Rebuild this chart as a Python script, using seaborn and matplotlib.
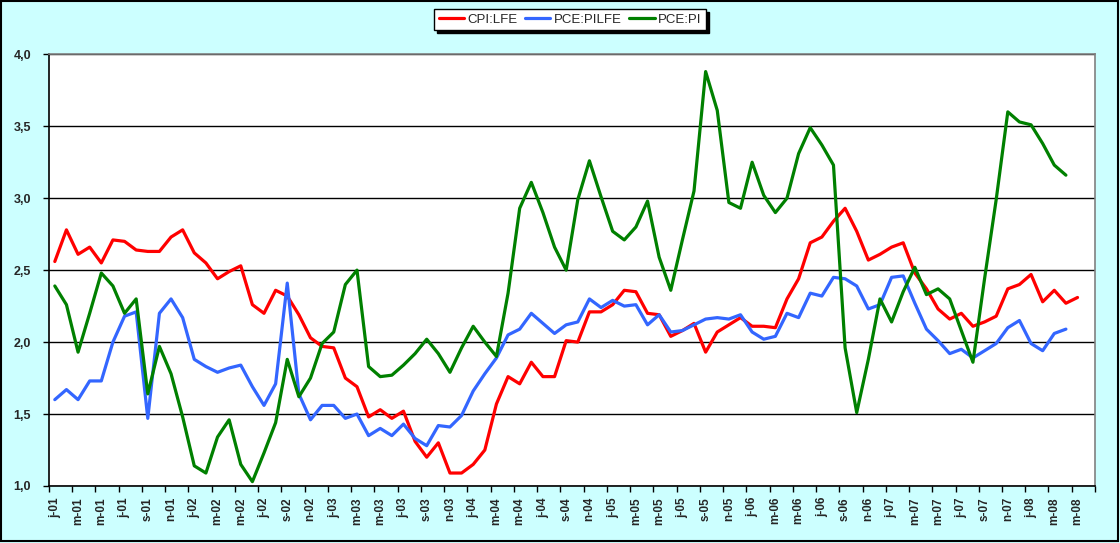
"""
Core inflation measures, monthly, Jan 2001 - May 2008
CPI less food & energy vs PCE price indexes (y/y %).
"""

import numpy as np
import pandas as pd
import seaborn as sns
import matplotlib.pyplot as plt
from matplotlib.patches import Rectangle

# ------------------------------
# DATA
# ------------------------------
month_initials = ['j', 'f', 'm', 'a', 'm', 'j', 'j', 'a', 's', 'o', 'n', 'd']
years = ['01', '02', '03', '04', '05', '06', '07', '08']
n_months = 90   # Jan 2001 .. Jun 2008 (axis categories)

cpi_lfe = [2.56, 2.78, 2.61, 2.66, 2.55, 2.71, 2.70, 2.64, 2.63, 2.63, 2.73, 2.78,
           2.62, 2.55, 2.44, 2.49, 2.53, 2.26, 2.20, 2.36, 2.32, 2.19, 2.03, 1.97,
           1.96, 1.75, 1.69, 1.48, 1.53, 1.47, 1.52, 1.31, 1.20, 1.30, 1.09, 1.09,
           1.15, 1.25, 1.57, 1.76, 1.71, 1.86, 1.76, 1.76, 2.01, 2.00, 2.21, 2.21,
           2.26, 2.36, 2.35, 2.20, 2.19, 2.04, 2.08, 2.13, 1.93, 2.07, 2.12, 2.17,
           2.11, 2.11, 2.10, 2.30, 2.44, 2.69, 2.73, 2.84, 2.93, 2.77, 2.57, 2.61,
           2.66, 2.69, 2.48, 2.37, 2.23, 2.16, 2.20, 2.11, 2.14, 2.18, 2.37, 2.40,
           2.47, 2.28, 2.36, 2.27, 2.31]

pce_pilfe = [1.60, 1.67, 1.60, 1.73, 1.73, 2.00, 2.18, 2.21, 1.47, 2.20, 2.30, 2.17,
             1.88, 1.83, 1.79, 1.82, 1.84, 1.69, 1.56, 1.71, 2.41, 1.64, 1.46, 1.56,
             1.56, 1.47, 1.50, 1.35, 1.40, 1.35, 1.43, 1.33, 1.28, 1.42, 1.41, 1.49,
             1.66, 1.78, 1.89, 2.05, 2.09, 2.20, 2.13, 2.06, 2.12, 2.14, 2.30, 2.24,
             2.29, 2.25, 2.26, 2.12, 2.19, 2.07, 2.08, 2.12, 2.16, 2.17, 2.16, 2.19,
             2.07, 2.02, 2.04, 2.20, 2.17, 2.34, 2.32, 2.45, 2.44, 2.39, 2.23, 2.26,
             2.45, 2.46, 2.27, 2.09, 2.01, 1.92, 1.95, 1.89, 1.94, 1.99, 2.10, 2.15,
             1.99, 1.94, 2.06, 2.09]

pce_pi = [2.39, 2.26, 1.93, 2.20, 2.48, 2.39, 2.20, 2.30, 1.64, 1.97, 1.78, 1.48,
          1.14, 1.09, 1.34, 1.46, 1.15, 1.03, 1.23, 1.44, 1.88, 1.62, 1.75, 1.99,
          2.07, 2.40, 2.50, 1.83, 1.76, 1.77, 1.84, 1.92, 2.02, 1.92, 1.79, 1.96,
          2.11, 2.00, 1.90, 2.34, 2.93, 3.11, 2.90, 2.66, 2.50, 2.99, 3.26, 3.01,
          2.77, 2.71, 2.80, 2.98, 2.59, 2.36, 2.71, 3.05, 3.88, 3.61, 2.97, 2.93,
          3.25, 3.02, 2.90, 3.00, 3.31, 3.49, 3.37, 3.23, 1.96, 1.51, 1.88, 2.30,
          2.14, 2.35, 2.52, 2.33, 2.37, 2.30, 2.08, 1.86, 2.44, 2.99, 3.60, 3.53,
          3.51, 3.38, 3.23, 3.16]

series_names = ['CPI:LFE', 'PCE:PILFE', 'PCE:PI']
series_colors = ['#FF0000', '#3366FF', '#008000']

# tick labels every second month: j-01, m-01, m-01, j-01, s-01, n-01, ...
month_labels = [f"{m}-{y}" for y in years for m in month_initials][:n_months]
label_pos = list(range(0, n_months, 2))
tick_labels = [month_labels[i] for i in label_pos]

# ------------------------------
# PLOT
# ------------------------------
sns.set_style("white")
plt.rcParams['font.family'] = ['Liberation Sans', 'DejaVu Sans']

fig = plt.figure(figsize=(11.2, 5.43), dpi=100, facecolor='#CCFFFF')
ax = fig.add_axes([0.04375, 0.105, 0.9339, 0.795])
ax.set_facecolor('white')

for name, values, col in zip(series_names, [cpi_lfe, pce_pilfe, pce_pi], series_colors):
    sns.lineplot(x=np.arange(len(values)), y=values, color=col, lw=2.3,
                 label=name, ax=ax, legend=False)

ax.set_xlim(-0.5, n_months - 0.5)
ax.set_ylim(1.0, 4.0)

# y axis: comma decimals, black gridlines
yt = np.arange(1.0, 4.01, 0.5)
ax.set_yticks(yt)
ax.set_yticklabels([f"{v:.1f}".replace('.', ',') for v in yt],
                   fontweight='bold', fontsize=9)
ax.yaxis.grid(True, color='black', lw=1)
ax.set_axisbelow(True)

# x axis: tick marks at the boundaries of month pairs, labels at month centres
ax.set_xticks(np.arange(-0.5, n_months, 2))
ax.set_xticklabels([])
ax.set_xticks(label_pos, minor=True)
ax.set_xticklabels(tick_labels, minor=True, rotation=90,
                   fontweight='bold', fontsize=8.5)
ax.tick_params(axis='x', which='minor', length=0, pad=8)
ax.tick_params(axis='x', which='major', direction='out', length=4,
               width=1, color='black', bottom=True)
ax.tick_params(axis='y', direction='out', length=4, width=1,
               color='black', left=True, pad=9)
ax.set_xlabel("")
ax.set_ylabel("")

for side in ['left', 'bottom']:
    ax.spines[side].set_color('black')
    ax.spines[side].set_linewidth(1.2)
for side in ['top', 'right']:
    ax.spines[side].set_color('#808080')
    ax.spines[side].set_linewidth(1.2)

# legend box at the top centre
handles, labels = ax.get_legend_handles_labels()
leg = fig.legend(handles, labels, loc='center', bbox_to_anchor=(0.509, 0.964),
                 ncol=3, frameon=True, fancybox=False, fontsize=9.5,
                 handlelength=1.9, handletextpad=0.25, columnspacing=0.6,
                 borderpad=0.35, shadow={'color': 'black', 'alpha': 1.0})
leg.get_frame().set_edgecolor('black')
leg.get_frame().set_linewidth(1.0)
leg.get_frame().set_facecolor('white')

# outer chart border
fig.patches.append(Rectangle((0.001, 0.003), 0.997, 0.995, transform=fig.transFigure,
                             fill=False, edgecolor='black', lw=1.5))

fig.savefig("out.png", dpi=100, facecolor=fig.get_facecolor())
plt.close(fig)
print("Saved out.png")
